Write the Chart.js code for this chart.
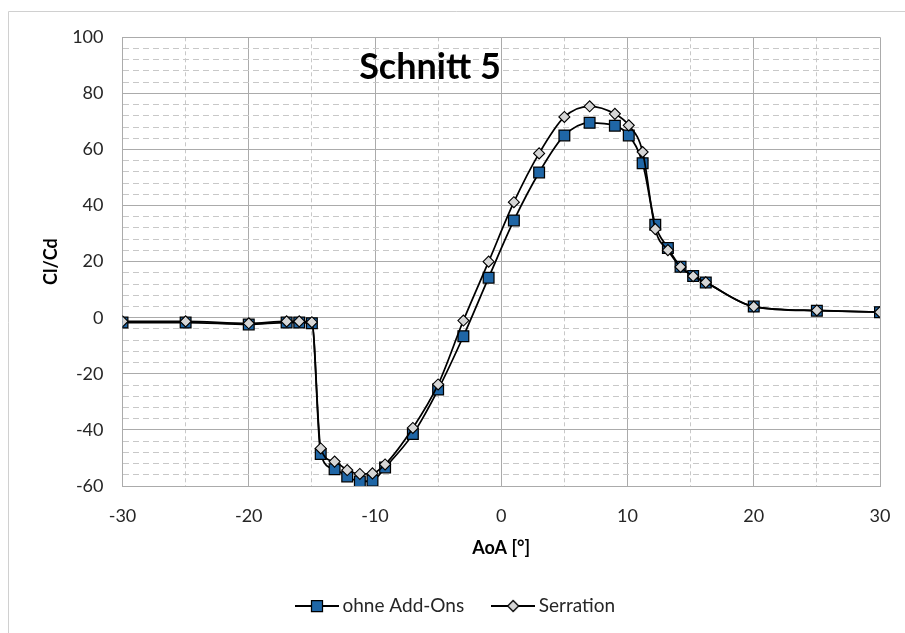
<!DOCTYPE html>
<html>
<head>
<meta charset="utf-8">
<script src="https://cdn.jsdelivr.net/npm/chart.js@4.4.1/dist/chart.umd.min.js"></script>
<style>
  html, body { margin: 0; padding: 0; background: #fff; }
  #wrap { width: 905px; height: 633px; position: relative; }
</style>
</head>
<body>
<div id="wrap"><canvas id="c" width="905" height="633"></canvas></div>
<script>
// ---- data ----
const aoa = [-30, -25, -20, -17, -16, -15, -14.3, -13.2, -12.2, -11.2, -10.2, -9.2, -7, -5, -3, -1, 1, 3, 5, 7, 9, 10.1, 11.2, 12.2, 13.2, 14.2, 15.2, 16.2, 20, 25, 30];
const ohneAddOns = [-1.7, -1.7, -2.4, -1.7, -1.7, -2.0, -48.6, -54.0, -56.6, -58.4, -58.1, -53.4, -41.5, -25.6, -6.6, 14.3, 34.7, 51.8, 65.0, 69.5, 68.5, 65.0, 55.1, 33.2, 24.9, 18.2, 14.9, 12.6, 4.0, 2.5, 2.0];
const serration = [-1.3, -1.3, -2.0, -1.3, -1.3, -1.6, -46.6, -51.3, -54.3, -55.7, -55.5, -52.3, -39.3, -23.8, -1.0, 20.0, 41.2, 58.6, 71.6, 75.4, 72.7, 68.6, 59.1, 31.6, 24.1, 18.1, 14.8, 12.6, 4.0, 2.6, 2.0];
const seriesNames = ['ohne Add-Ons', 'Serration'];
const chartTitle = 'Schnitt 5';
const xTitle = 'AoA [°]';
const yTitle = 'Cl/Cd';
const xLabelStep = 10;   // labelled x ticks
const yLabelStep = 20;   // labelled y ticks

const FONT = 'Lato';
const MAJOR = '#ABABAB';
const MINOR = '#C8C8C8';

function legendIcon(kind, fill) {
  const c = document.createElement('canvas');
  c.width = 44; c.height = 14;
  const g = c.getContext('2d');
  g.strokeStyle = '#000'; g.lineWidth = 2;
  g.beginPath(); g.moveTo(0, 7); g.lineTo(44, 7); g.stroke();
  g.fillStyle = fill; g.lineWidth = 1.25;
  g.beginPath();
  if (kind === 'rect') {
    g.rect(16.5, 1.5, 11, 11);
  } else {
    g.moveTo(22, 1.5); g.lineTo(27.5, 7); g.lineTo(22, 12.5); g.lineTo(16.5, 7); g.closePath();
  }
  g.fill(); g.stroke();
  return c;
}

const inTitle = {
  id: 'inTitle',
  beforeDraw(chart) {
    const ctx = chart.ctx;
    ctx.save();
    ctx.fillStyle = '#fff';
    ctx.fillRect(0, 0, chart.width, chart.height);
    ctx.strokeStyle = '#D0D0D0';
    ctx.lineWidth = 1;
    ctx.beginPath();
    ctx.moveTo(8.5, chart.height); ctx.lineTo(8.5, 11.5); ctx.lineTo(chart.width, 11.5);
    ctx.stroke();
    ctx.restore();
  },
  afterDatasetsDraw(chart) {
    const { ctx, chartArea: a } = chart;
    ctx.save();
    ctx.font = 'bold 36px ' + FONT;
    ctx.fillStyle = '#000';
    ctx.textAlign = 'center';
    ctx.textBaseline = 'middle';
    ctx.fillText(chartTitle, a.left + 0.406 * (a.right - a.left), a.top + 0.066 * (a.bottom - a.top));
    ctx.restore();
  }
};

const datasets = [
  {
    label: seriesNames[0],
    data: aoa.map((x, i) => ({ x: x, y: ohneAddOns[i] })),
    borderColor: '#000', borderWidth: 1.75,
    pointStyle: 'rect', pointRadius: 7.6, pointHoverRadius: 7.6,
    pointBackgroundColor: '#1F66A6', pointBorderColor: '#000', pointBorderWidth: 1.25,
    cubicInterpolationMode: 'monotone', fill: false, order: 1
  },
  {
    label: seriesNames[1],
    data: aoa.map((x, i) => ({ x: x, y: serration[i] })),
    borderColor: '#000', borderWidth: 1.75,
    pointStyle: 'rectRot', pointRadius: 5.5, pointHoverRadius: 5.5,
    pointBackgroundColor: '#D6D6D6', pointBorderColor: '#000', pointBorderWidth: 1.1,
    cubicInterpolationMode: 'monotone', fill: false, order: 0
  }
];

const icons = [legendIcon('rect', '#1F66A6'), legendIcon('diamond', '#D6D6D6')];

new Chart(document.getElementById('c'), {
  type: 'line',
  data: { datasets: datasets },
  plugins: [inTitle],
  options: {
    responsive: false,
    animation: false,
    devicePixelRatio: 1,
    layout: { padding: { left: 36, right: 25, top: 37.3, bottom: 7.5 } },
    plugins: {
      title: { display: false },
      tooltip: { enabled: false },
      legend: {
        position: 'bottom',
        labels: {
          usePointStyle: true,
          pointStyleWidth: 32,
          boxHeight: 14,
          padding: 33,
          color: '#262626',
          font: { family: FONT, size: 19 },
          generateLabels: (chart) => chart.data.datasets.map((ds, i) => ({
            text: ds.label, pointStyle: icons[i], fillStyle: '#fff', strokeStyle: '#fff',
            lineWidth: 0, hidden: false, datasetIndex: i, fontColor: '#262626'
          }))
        }
      }
    },
    scales: {
      x: {
        type: 'linear', min: -30, max: 30,
        afterFit: (s) => { s.height = 77.5; s.paddingLeft = 0; s.paddingRight = 0; },
        ticks: {
          stepSize: 5, autoSkip: false, maxRotation: 0, padding: 19,
          color: '#262626', font: { family: FONT, size: 18 },
          callback: (v) => (v % xLabelStep === 0 ? v : '')
        },
        grid: {
          drawTicks: false, lineWidth: 1,
          color: (c) => (c.tick && c.tick.value % xLabelStep !== 0 ? MINOR : MAJOR)
        },
        border: {
          display: true, color: MAJOR,
          dash: (c) => (c.tick && c.tick.value % xLabelStep !== 0 ? [4, 3] : [])
        },
        title: {
          display: true, text: xTitle, color: '#000',
          font: { family: FONT, size: 18, weight: 'bold' },
          padding: { top: 4, bottom: 4.7 }
        }
      },
      y: {
        type: 'linear', min: -60, max: 100,
        afterFit: (s) => { s.width = 86.5; },
        ticks: {
          stepSize: 4, autoSkip: false, padding: 19,
          color: '#262626', font: { family: FONT, size: 18 },
          callback: (v) => (v % yLabelStep === 0 ? v : '')
        },
        grid: {
          drawTicks: false, lineWidth: 1,
          color: (c) => (c.tick && c.tick.value % yLabelStep !== 0 ? MINOR : MAJOR)
        },
        border: {
          display: true, color: MAJOR,
          dash: (c) => (c.tick && c.tick.value % yLabelStep !== 0 ? [6, 4] : [])
        },
        title: {
          display: true, text: yTitle, color: '#000',
          font: { family: FONT, size: 18, weight: 'bold' },
          padding: { top: 4, bottom: 10 }
        }
      }
    }
  }
});
</script>
</body>
</html>
